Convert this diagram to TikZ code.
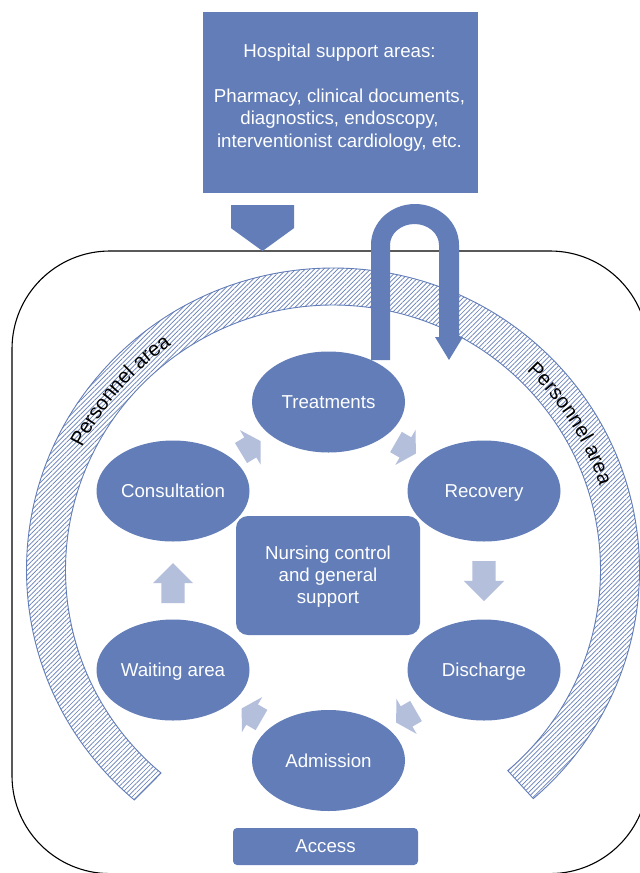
\documentclass[tikz,border=0pt]{standalone}
\usepackage{fontspec}
\setmainfont{Liberation Sans}
\usetikzlibrary{shapes.geometric,shapes.arrows,patterns.meta,decorations.text}
\definecolor{blk}{HTML}{627DB8}
\definecolor{lgt}{HTML}{B4BFDC}
\newcommand{\pafont}{\fontsize{20.4}{24}\selectfont}
\tikzset{
  station/.style={ellipse,fill=blk,text=white,minimum width=153pt,minimum height=101pt,inner sep=0pt,font=\fontsize{18.7}{22}\selectfont,text height=15pt,text depth=2pt},
  panel/.style={rectangle,fill=blk,text=white,inner sep=0pt,align=center,font=\fontsize{18.7}{22.6}\selectfont},
  flow/.style={single arrow,fill=lgt,anchor=tail,inner xsep=0pt,inner ysep=11.5pt,outer sep=0pt,minimum width=40pt,single arrow head extend=8.5pt,single arrow head indent=0pt},
  diag/.style={flow,minimum height=23pt,single arrow tip angle=118},
  vert/.style={flow,minimum height=40pt,single arrow tip angle=90}
}
\begin{document}
\begin{tikzpicture}[x=1pt,y=-1pt]
\path[use as bounding box] (0,0) rectangle (640,873);
\clip (0,0) rectangle (640,873);
\fill[white] (0,0) rectangle (640,873);
% frame
\draw[black,line width=1.1pt,rounded corners=98pt] (12,251) rectangle (648,873.6);
% ring
\coordinate (c) at (333,570);
\draw[blk,line width=0.9pt,pattern={Lines[angle=45,distance=3.3pt,line width=0.7pt]},pattern color=blk]
  ([shift={(130.4:306.5 and 302)}]c) arc[start angle=130.4,end angle=409.2,x radius=306.5,y radius=302]
  -- ([shift={(49.2:267.5 and 265)}]c) arc[start angle=409.2,end angle=130,x radius=267.5,y radius=265] -- cycle;
\path[decorate,decoration={text along path,text align=center,text={|\pafont|Personnel area}}]
  ([shift={(-155:280 and 276)}]c) arc[start angle=-155,end angle=-124,x radius=280,y radius=276];
\path[decorate,decoration={text along path,text align=center,text={|\pafont|Personnel area}}]
  ([shift={(-47:280 and 276)}]c) arc[start angle=-47,end angle=-17,x radius=280,y radius=276];
% top box
\node[panel,minimum width=275pt,minimum height=181pt] (support) at (340.5,102.5) {};
\node[panel,fill=none] (supporttext) at (339.5,97.5) {Hospital support areas:\\[22.6pt]Pharmacy, clinical documents,\\diagnostics, endoscopy,\\interventionist cardiology, etc.};
% entry arrow
\node[single arrow,anchor=tail,fill=blk,inner sep=0pt,outer sep=0pt,minimum width=63pt,minimum height=46pt,single arrow head extend=0pt,single arrow head indent=0pt,single arrow tip angle=108,rotate=-90] (entry) at (262.5,205) {};
% stations
\node[station] (treat) at (328.5,402) {Treatments};
\node[station] (recov) at (484,491) {Recovery};
\node[station] (disch) at (484,670) {Discharge};
\node[station] (admis) at (328.5,760.5) {Admission};
\node[station] (wait) at (173,670) {Waiting area};
\node[station] (consu) at (173,491) {Consultation};
% centre and access
\node[panel,rounded corners=12pt,minimum width=184pt,minimum height=119pt] (nurse) at (328,575.5) {};
\node[panel,fill=none,font=\fontsize{18.7}{22}\selectfont] (nursetext) at (328,577) {Nursing control\\and general\\support};
\node[panel,rounded corners=4pt,minimum width=185pt,minimum height=37pt] (access) at (325.5,846.5) {Access};
% flow arrows
\node[diag,rotate=31] (a1) at (241,453) {};
\node[diag,rotate=-30] (a2) at (396,442) {};
\node[vert,rotate=-90] (a3) at (484,561) {};
\node[diag,rotate=210] (a4) at (416,711) {};
\node[diag,rotate=150] (a5) at (261.5,720) {};
\node[vert,rotate=90] (a6) at (173,603) {};
% U arrow
\fill[blk] (371,360) -- (371,245) arc[start angle=180,end angle=360,x radius=44,y radius=41]
  -- (459,337) -- (463,337) -- (449,360) -- (435,337) -- (439,337) -- (439,245)
  arc[start angle=0,end angle=-180,x radius=24.5,y radius=21] -- (390,360) -- cycle;
\end{tikzpicture}
\end{document}
